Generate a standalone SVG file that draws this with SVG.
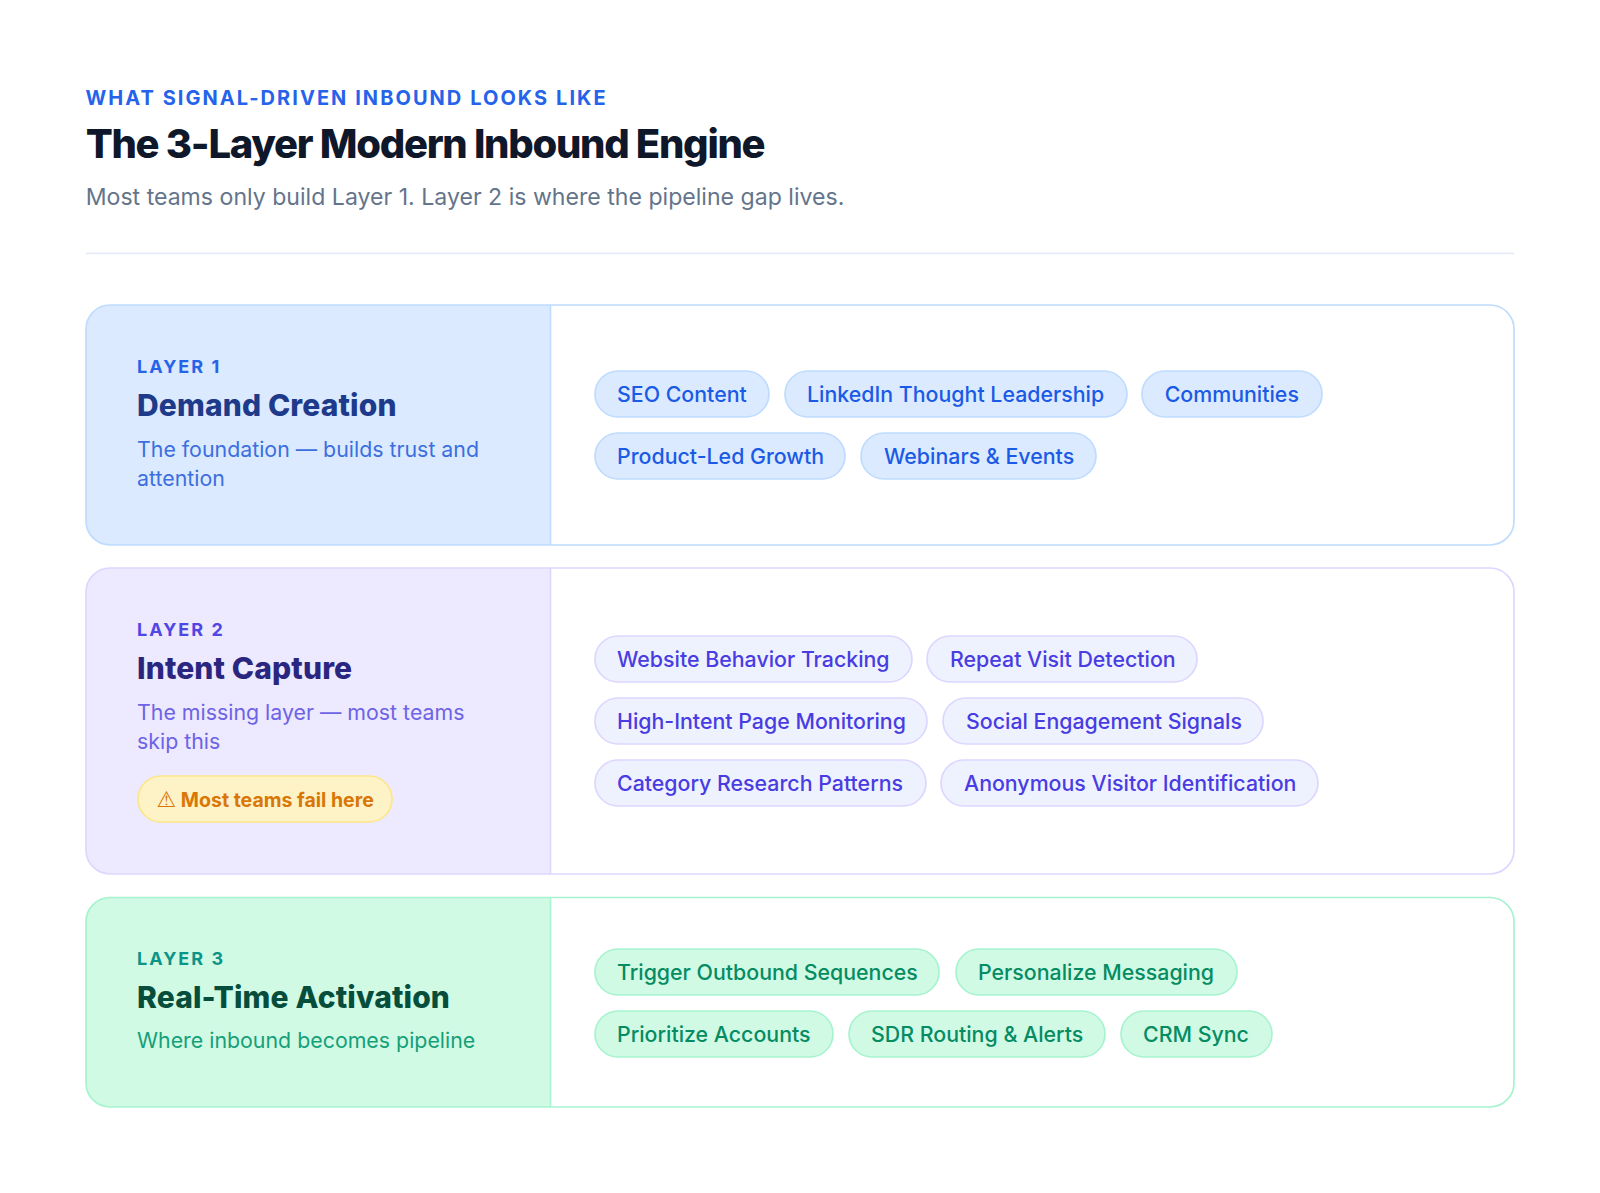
<svg xmlns="http://www.w3.org/2000/svg" width="1600" height="1193" viewBox="0 0 1600 1193">
<style>
text{font-family:Inter,"Liberation Sans",sans-serif}
.eyebrow{font-size:20px;font-weight:700;letter-spacing:2.05px;fill:#2563eb}
.title{font-size:40px;font-weight:800;letter-spacing:-1.28px;fill:#0f172a}
.sub{font-size:23.1px;fill:#64748b}
.lab{font-size:18px;font-weight:700;letter-spacing:2px}
.h{font-size:30px;font-weight:800;letter-spacing:.14px}
.d{font-size:21.35px}
.c{font-size:21.35px;font-weight:500}
.cb{stroke-width:1.7}
.card{fill:none;stroke-width:1.7}
.div{stroke-width:1.6}
.l1 .card{stroke:#bfdbfe}.l1 .pan{fill:#dbeafe}.l1 .lab{fill:#2563eb}.l1 .h{fill:#1e3a8a}.l1 .d{fill:#3b6fe0}
.l1 .cb{fill:#dbeafe;stroke:#bfdbfe}.l1 .c{fill:#1a5ae6}.l1 .div{stroke:#bfdbfe}
.l2 .card{stroke:#ddd6fe}.l2 .pan{fill:#ede9fe}.l2 .lab{fill:#4f46e5}.l2 .h{fill:#2a2680}.l2 .d{fill:#6d63e6}
.l2 .cb{fill:#eef2ff;stroke:#ddd6fe}.l2 .c{fill:#483ce2}.l2 .div{stroke:#ddd6fe}
.l3 .card{stroke:#a7f3d0}.l3 .pan{fill:#d1fae5}.l3 .lab{fill:#0d9488}.l3 .h{fill:#064e3b}.l3 .d{fill:#14a078}
.l3 .cb{fill:#d1fae5;stroke:#a7f3d0}.l3 .c{fill:#058c63}.l3 .div{stroke:#a7f3d0}
</style>
<rect width="1600" height="1193" fill="#fff"/>
<g id="header">
<text class="eyebrow" x="85.500" y="105">WHAT SIGNAL-DRIVEN INBOUND LOOKS LIKE</text>
<text class="title" x="85.700" y="158">The 3-Layer Modern Inbound Engine</text>
<text class="sub" x="85.700" y="204.500">Most teams only build Layer 1. Layer 2 is where the pipeline gap lives.</text>
<line x1="86" y1="253.300" x2="1514" y2="253.300" stroke="#e6ecf7" stroke-width="1.7"/>
</g>
<g id="layer-1" class="l1">
<path class="pan" d="M550 305H110a24 24 0 0 0-24 24V521a24 24 0 0 0 24 24H550Z"/>
<line class="div" x1="550.500" y1="305" x2="550.500" y2="545"/>
<rect class="card" x="86" y="305" width="1428" height="240" rx="24"/>
<text class="lab" x="137" y="373">LAYER 1</text>
<text class="h" x="137" y="416">Demand Creation</text>
<text class="d" x="137" y="457">The foundation — builds trust and</text>
<text class="d" x="137" y="486">attention</text>
<g id="chip-seo"><rect class="cb" x="595" y="371" width="174" height="46" rx="23"/><text class="c" x="617" y="402">SEO Content</text></g>
<g id="chip-linkedin"><rect class="cb" x="785" y="371" width="342" height="46" rx="23"/><text class="c" x="807" y="402">LinkedIn Thought Leadership</text></g>
<g id="chip-communities"><rect class="cb" x="1142" y="371" width="180" height="46" rx="23"/><text class="c" x="1164.700" y="402">Communities</text></g>
<g id="chip-plg"><rect class="cb" x="595" y="433" width="250" height="46" rx="23"/><text class="c" x="617" y="464">Product-Led Growth</text></g>
<g id="chip-webinars"><rect class="cb" x="861" y="433" width="235" height="46" rx="23"/><text class="c" x="884" y="464">Webinars &amp; Events</text></g>
</g>
<g id="layer-2" class="l2">
<path class="pan" d="M550 568H110a24 24 0 0 0-24 24V850a24 24 0 0 0 24 24H550Z"/>
<line class="div" x1="550.500" y1="568" x2="550.500" y2="874"/>
<rect class="card" x="86" y="568" width="1428" height="306" rx="24"/>
<text class="lab" x="137" y="636">LAYER 2</text>
<text class="h" x="137" y="679">Intent Capture</text>
<text class="d" x="137" y="720.300">The missing layer — most teams</text>
<text class="d" x="137" y="749">skip this</text>
<g id="warning"><rect x="138" y="776" width="254" height="46" rx="23" fill="#fef3c7" stroke="#fde68a" stroke-width="1.7"/><text x="156.500" y="807" font-size="19.500" font-weight="700" fill="#d97706"><tspan font-size="22" font-weight="400" font-family="'Noto Sans Symbols','DejaVu Sans',sans-serif">⚠︎</tspan> Most teams fail here</text></g>
<g id="chip-website"><rect class="cb" x="595" y="636" width="317" height="46" rx="23"/><text class="c" x="617" y="667">Website Behavior Tracking</text></g>
<g id="chip-repeat"><rect class="cb" x="927" y="636" width="270" height="46" rx="23"/><text class="c" x="950" y="667">Repeat Visit Detection</text></g>
<g id="chip-highintent"><rect class="cb" x="595" y="698" width="332" height="46" rx="23"/><text class="c" x="617" y="729">High-Intent Page Monitoring</text></g>
<g id="chip-social"><rect class="cb" x="943" y="698" width="320" height="46" rx="23"/><text class="c" x="966" y="729">Social Engagement Signals</text></g>
<g id="chip-category"><rect class="cb" x="595" y="760" width="331" height="46" rx="23"/><text class="c" x="617" y="791.400">Category Research Patterns</text></g>
<g id="chip-anon"><rect class="cb" x="941" y="760" width="377" height="46" rx="23"/><text class="c" x="964" y="791.400">Anonymous Visitor Identification</text></g>
</g>
<g id="layer-3" class="l3">
<path class="pan" d="M550 897.500H110a24 24 0 0 0-24 24V1083a24 24 0 0 0 24 24H550Z"/>
<line class="div" x1="550.500" y1="897.500" x2="550.500" y2="1107"/>
<rect class="card" x="86" y="897.500" width="1428" height="209.500" rx="24"/>
<text class="lab" x="137" y="965">LAYER 3</text>
<text class="h" x="137" y="1008">Real-Time Activation</text>
<text class="d" x="137" y="1047.500">Where inbound becomes pipeline</text>
<g id="chip-trigger"><rect class="cb" x="595" y="949" width="344" height="46" rx="23"/><text class="c" x="617" y="980">Trigger Outbound Sequences</text></g>
<g id="chip-personalize"><rect class="cb" x="956" y="949" width="281" height="46" rx="23"/><text class="c" x="978" y="980">Personalize Messaging</text></g>
<g id="chip-prioritize"><rect class="cb" x="595" y="1011" width="238" height="46" rx="23"/><text class="c" x="617" y="1042">Prioritize Accounts</text></g>
<g id="chip-sdr"><rect class="cb" x="849" y="1011" width="256" height="46" rx="23"/><text class="c" x="871" y="1042">SDR Routing &amp; Alerts</text></g>
<g id="chip-crm"><rect class="cb" x="1121" y="1011" width="151" height="46" rx="23"/><text class="c" x="1143" y="1042">CRM Sync</text></g>
</g>
</svg>
